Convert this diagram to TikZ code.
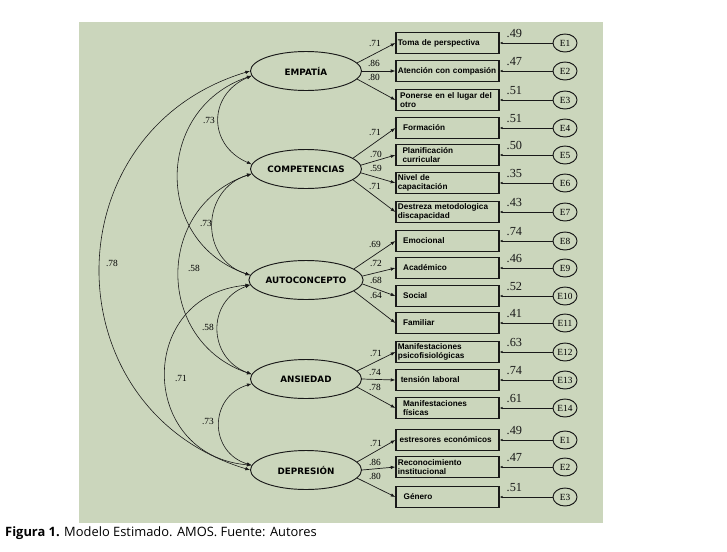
\documentclass[tikz,border=0pt]{standalone}
\usepackage{fontspec}
\setmainfont{Liberation Serif}
\newfontfamily\boxfont{DejaVu Sans}
\newfontfamily\itemfont{Liberation Sans}
\newfontfamily\capfont{Open Sans}
\usetikzlibrary{arrows.meta,shapes.geometric}
\definecolor{panelgreen}{RGB}{203,214,188}
\definecolor{inkgray}{RGB}{25,25,25}
\tikzset{
  % 潜变量(椭圆)
  latent/.style={
    ellipse, draw=inkgray, line width=0.8pt,
    minimum width=3.33cm, minimum height=1.17cm, inner sep=0pt,
    font=\boxfont\bfseries\fontsize{7.5}{9}\selectfont
  },
  % 观测变量(方框)
  obs/.style={
    draw=inkgray, line width=1pt,
    minimum width=3.09cm, minimum height=0.63cm,
    text width=2.98cm, inner xsep=1.5pt, inner ysep=0.5pt, align=left,
    font=\itemfont\bfseries\fontsize{7}{7.6}\selectfont
  },
  % 误差项
  err/.style={
    ellipse, draw=inkgray, line width=0.8pt,
    minimum width=0.72cm, minimum height=0.54cm, inner sep=0pt,
    font=\fontsize{8}{9}\selectfont
  },
  % 箭头样式
  load/.style={-{Latex[length=4pt,width=3pt]}, line width=0.6pt, inkgray},
  errarr/.style={-{Latex[length=2.5pt,width=2pt]}, line width=0.6pt, inkgray},
  cov/.style={<->, >={Latex[length=4pt,width=3pt]}, line width=0.5pt, inkgray},
  % 系数
  coef/.style={font=\fontsize{8}{9}\selectfont, inner sep=0.5pt},
  rsq/.style={font=\fontsize{10.5}{12}\selectfont, inner sep=0pt},
}
\newcommand{\ind}[1]{\hspace*{#1pt}}

\begin{document}
\begin{tikzpicture}[x=0.03cm, y=-0.03cm]
    \useasboundingbox (0,0) rectangle (727,551);
    % Panel
    \fill[panelgreen] (79,22) rectangle (603,523);

    % Latent variables
    \node[latent] (emp)  at (306,71)  {EMPATÍA};
    \node[latent] (comp) at (306,169) {COMPETENCIAS};
    \node[latent] (auto) at (306,280) {AUTOCONCEPTO};
    \node[latent] (ans)  at (306,379) {ANSIEDAD};
    \node[latent] (dep)  at (306,470) {DEPRESIÓN};

    % Indicators, errors and R^2
    \foreach \n/\y/\t/\e/\r in {
        1/43/{Toma de perspectiva}/E1/.49,
        2/71/{Atención con compasión}/E2/.47,
        3/100/{\ind{2}Ponerse en el lugar del\\\ind{2}otro}/E3/.51,
        4/128/{\ind{4.5}Formación}/E4/.51,
        5/155/{\ind{4}Planificación\\\ind{4}curricular}/E5/.50,
        6/183/{Nivel de\\capacitación}/E6/.35,
        7/212/{Destreza metodologica\\discapacidad}/E7/.43,
        8/241/{\ind{4.5}Emocional}/E8/.74,
        9/268/{\ind{4.5}Académico}/E9/.46,
        10/296/{\ind{4.5}Social}/E10/.52,
        11/323/{\ind{4.5}Familiar}/E11/.41,
        12/352/{Manifestaciones\\psicofisiológicas}/E12/.63,
        13/380/{\ind{2.5}tensión laboral}/E13/.74,
        14/408/{\ind{4.5}Manifestaciones\\\ind{4.5}físicas}/E14/.61,
        15/440/{\ind{1.5}estresores económicos}/E1/.49,
        16/467/{Reconocimiento\\institucional}/E2/.47,
        17/497/{\ind{5}Género}/E3/.51} {
        \node[obs] (b\n) at (447.5,\y) {\t};
        \node[err] (e\n) at (565,\y) {\e};
        \draw[errarr] (e\n) -- (b\n) node[rsq, pos=0.72, above=4.5pt] (r\n) {\r};
    }

    % Loadings
    \foreach \s/\a/\b/\lx/\ly/\t in {
        emp/9/1/375/43/.71, emp/0/2/374/63/.86, emp/351/3/374/77/.80,
        comp/13/4/375/132/.71, comp/4/5/376/154/.70, comp/356/6/376/168/.59, comp/347/7/375/186/.71,
        auto/13/8/375/244/.69, auto/4/9/376/263/.72, auto/356/10/376/280/.68, auto/347/11/376/295/.64,
        ans/9/12/376/353/.71, ans/0/13/375/372/.74, ans/351/14/375/387/.78,
        dep/9/15/376/443/.71, dep/0/16/375/462/.86, dep/351/17/375/476/.80} {
        \draw[load] (\s.\a) -- (b\b.west);
        \node[coef] (lam\b) at (\lx,\ly) {\t};
    }

    % Covariances
    \draw[cov] (emp.185) .. controls +(-44,19) and +(-44,-19) .. (comp.175);
    \draw[cov] (comp.185) .. controls +(-51,16) and +(-51,-16) .. (auto.175);
    \draw[cov] (auto.185) .. controls +(-44,16) and +(-44,-16) .. (ans.175);
    \draw[cov] (ans.185) .. controls +(-43,13) and +(-43,-13) .. (dep.175);
    \draw[cov] (emp.185) .. controls +(-97,33) and +(-97,-33) .. (auto.175);
    \draw[cov] (comp.185) .. controls +(-97,33) and +(-97,-33) .. (ans.175);
    \draw[cov] (auto.185) .. controls +(-114,10) and +(-114,-10) .. (dep.175);
    \draw[cov] (emp.180) .. controls +(-200,60) and +(-200,-60) .. (dep.180);

    \foreach \x/\y/\t [count=\i] in {209/120/.73, 206/223/.73, 194/268/.58, 208/327/.58,
        181/378/.71, 208/421/.73, 112/263/.78}
        \node[coef] (phi\i) at (\x,\y) {\t};

    % Caption
    \node[anchor=west, inner sep=0pt, font=\capfont\fontsize{11}{13}\selectfont] (cap) at (5,533)
        {\textbf{Figura 1.} Modelo Estimado. AMOS. Fuente: Autores};
\end{tikzpicture}
\end{document}
